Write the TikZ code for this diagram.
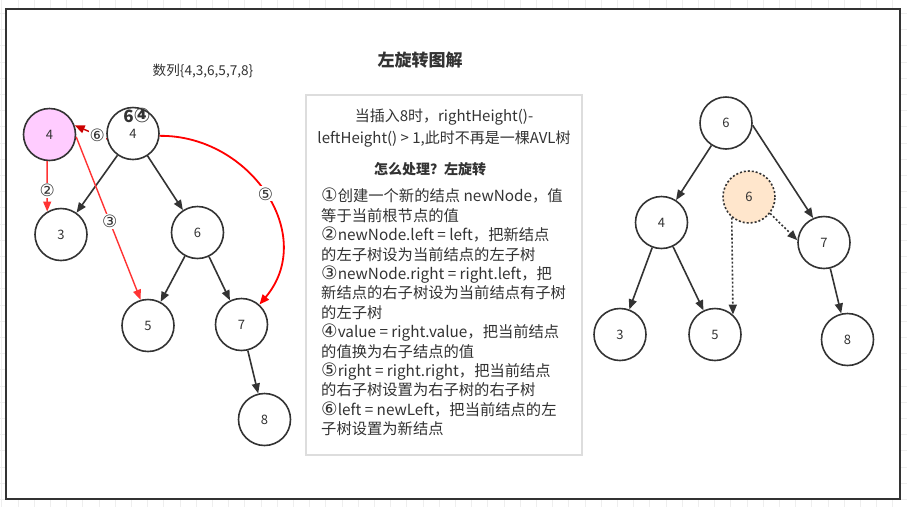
\documentclass[tikz,border=0pt]{standalone}
\usepackage{fontspec}
\setmainfont{Noto Sans CJK SC}
\newfontfamily\circfont{DejaVu Sans}
\newcommand{\circnum}[1]{{\circfont\fontsize{18.5}{19.4}\selectfont #1}}
\usetikzlibrary{positioning}
\usetikzlibrary{calc}
\usetikzlibrary{arrows.meta}
\definecolor{dark}{HTML}{333333}
\definecolor{gridgray}{HTML}{EEEEEE}
\definecolor{boxgray}{HTML}{DDDDDD}
\definecolor{pinkfill}{HTML}{FFCCFF}
\definecolor{peachfill}{HTML}{FFE6CC}
\definecolor{redA}{HTML}{FF3333}
\definecolor{redB}{HTML}{FF0000}
\definecolor{redC}{HTML}{CC0000}

\begin{document}
\begin{tikzpicture}[x=1pt,y=-1pt,
  tnode/.style={circle,draw=dark,line width=1.6pt,minimum size=52pt,inner sep=0pt,text=dark,font=\fontsize{13}{15}\selectfont},
  tedge/.style={draw=dark,line width=1.6pt,-{Triangle[length=10pt,width=8pt]}},
  redge/.style={line width=1.4pt,-{Triangle[length=10pt,width=8pt]}},
  rlabel/.style={fill=white,inner sep=1pt,text=dark,font=\circfont\fontsize{17}{18}\selectfont},
  ctext/.style={text=dark,font=\fontsize{15.3}{19.4}\selectfont}]
	\useasboundingbox (0,0) rectangle (907,507);
	% paper grid round the frame
	\foreach \gx in {1.7,17.9,...,907} \draw[gridgray,line width=0.8pt] (\gx,0) -- (\gx,507);
	\foreach \gy in {-2.8,13.4,...,507} \draw[gridgray,line width=0.8pt] (0,\gy) -- (907,\gy);
	\draw[dark,line width=2pt,fill=white] (5.5,9) rectangle (899.5,499);

	\node[text=dark,font=\bfseries\fontsize{17}{19}\selectfont] (title) at (420,60) {左旋转图解};
	\node[text=dark,font=\fontsize{13.6}{15}\selectfont] (seq) at (203,71) {数列\{4,3,6,5,7,8\}};

	% tree before the rotation
	\node[tnode,fill=pinkfill] (np) at (49.5,134.5) {4};
	\node[tnode,text depth=0pt] (l4) at (133,133.5) {4};
	\node[text=dark,inner sep=0pt,text height=12pt,text depth=0pt] (l4tag) at (137,116.5) {\bfseries\fontsize{17}{19}\selectfont 6{\circfont\fontsize{20}{20}\selectfont ④}};
	\node[tnode] (l3) at (61,234.5) {3};
	\node[tnode] (l6) at (197.5,232.5) {6};
	\node[tnode] (l5) at (148,325.5) {5};
	\node[tnode] (l7) at (241.5,324.5) {7};
	\node[tnode] (l8) at (264.5,419.5) {8};
	\draw[tedge] (l4) -- (l3);
	\draw[tedge] (l4) -- (l6);
	\draw[tedge] (l6) -- (l5);
	\draw[tedge] (l6) -- (l7);
	\draw[tedge] (l7) -- (l8);
	\draw[redge,redA] (np.-95) -- node[rlabel,pos=0.58]{②} (l3.121);
	\draw[redge,redA] (np.-5) -- node[rlabel,pos=0.52]{③} (l5.106);
	\draw[redge,redC] (l4.192) -- node[rlabel,pos=0.3]{⑥} (np.20);
	\draw[redge,redB,line width=1.8pt] (l4.-5) .. controls (250,135) and (318,235) .. node[rlabel,pos=0.5]{⑤} (l7.48);

	% text box
	\draw[boxgray,line width=1.5pt] (306,95) rectangle (582,455);
	\node[ctext,align=center,font=\fontsize{15}{22}\selectfont] (head) at (444,128) {当插入8时，rightHeight()-\\leftHeight() > 1,此时不再是一棵AVL树};
	\node[text=dark,font=\bfseries\fontsize{14}{16}\selectfont] (how) at (430,169) {怎么处理？左旋转};
	\node[ctext,align=left,anchor=north west,inner sep=0pt] (steps) at (321,188) {\circnum{①}创建一个新的结点 newNode，值\\等于当前根节点的值\\\circnum{②}newNode.left = left，把新结点\\的左子树设为当前结点的左子树\\\circnum{③}newNode.right = right.left，把\\新结点的右子树设为当前结点有子树\\的左子树\\\circnum{④}value = right.value，把当前结点\\的值换为右子结点的值\\\circnum{⑤}right = right.right，把当前结点\\的右子树设置为右子树的右子树\\\circnum{⑥}left = newLeft，把当前结点的左\\子树设置为新结点};

	% tree after the rotation
	\node[tnode] (r6) at (726,123) {6};
	\node[tnode] (r4) at (661.5,222.5) {4};
	\node[tnode,fill=peachfill,dash pattern=on 2pt off 2pt] (rn) at (749,197) {6};
	\node[tnode] (r7) at (824,242.5) {7};
	\node[tnode] (r3) at (620,334.5) {3};
	\node[tnode] (r5) at (715,334.5) {5};
	\node[tnode] (r8) at (847.5,339.5) {8};
	\draw[tedge] (r6) -- (r4);
	\draw[tedge] (r6.-5) -- (r7.114);
	\draw[tedge] (r4) -- (r3);
	\draw[tedge] (r4) -- (r5);
	\draw[tedge] (r7) -- (r8);
	\draw[tedge,dash pattern=on 2pt off 2pt] (rn.-130) -- (r5.48);
	\draw[tedge,dash pattern=on 2pt off 2pt] (rn.-38) -- (r7.175);
\end{tikzpicture}
\end{document}
